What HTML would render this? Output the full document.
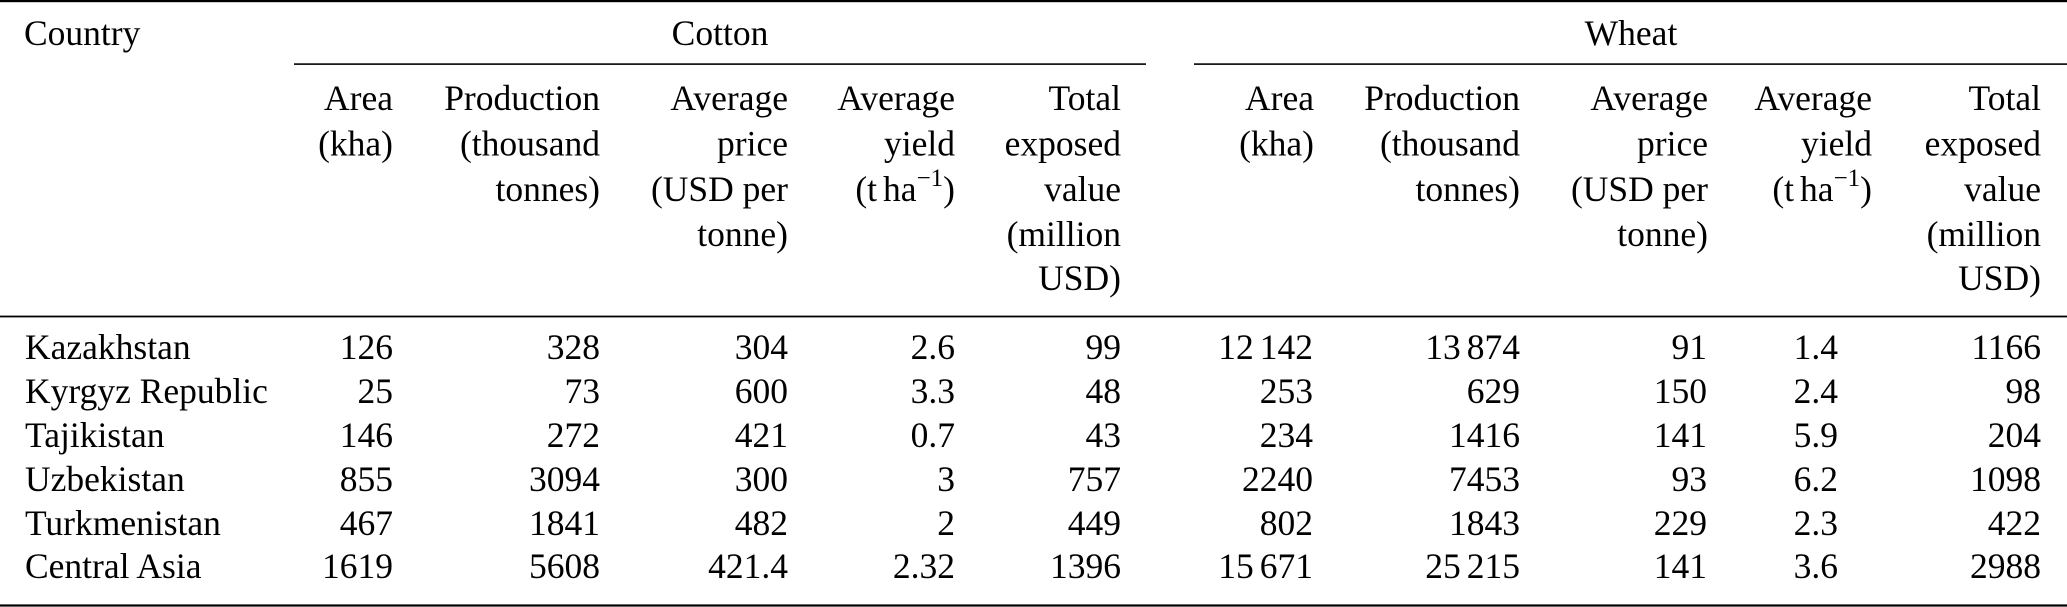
<!DOCTYPE html>
<html>
<head>
<meta charset="utf-8">
<style>
  html, body { margin: 0; padding: 0; background: #fff; }
  body { width: 2067px; height: 607px; overflow: hidden; }
  svg { display: block; }
  text { font-family: "Liberation Serif", "Times New Roman", serif; font-size: 35.5px; fill: #000; }
</style>
</head>
<body>
<svg width="2067" height="607" viewBox="0 0 2067 607" xmlns="http://www.w3.org/2000/svg">
  <!-- rules -->
  <rect x="0" y="0" width="2067" height="2.2" fill="#000"/>
  <rect x="294" y="63.3" width="852" height="1.6" fill="#000"/>
  <rect x="1194" y="63.3" width="873" height="1.6" fill="#000"/>
  <rect x="0" y="315.6" width="2067" height="1.8" fill="#000"/>
  <rect x="0" y="604.4" width="2067" height="2.2" fill="#000"/>

  <!-- top header -->
  <text x="24" y="45">Country</text>
  <text x="720" y="45" text-anchor="middle">Cotton</text>
  <text x="1631" y="45" text-anchor="middle">Wheat</text>

  <!-- Cotton sub headers -->
  <g text-anchor="end">
    <text x="393" y="110">Area</text>
    <text x="393" y="155.5">(kha)</text>

    <text x="600" y="110">Production</text>
    <text x="600" y="155.5">(thousand</text>
    <text x="600" y="201">tonnes)</text>

    <text x="788" y="110">Average</text>
    <text x="788" y="155.5">price</text>
    <text x="788" y="201">(USD per</text>
    <text x="788" y="246">tonne)</text>

    <text x="955" y="110">Average</text>
    <text x="955" y="155.5">yield</text>
    <text x="955" y="201">(t<tspan dx="6">ha</tspan><tspan dy="-15" font-size="25">−1</tspan><tspan dy="15">)</tspan></text>

    <text x="1121" y="110">Total</text>
    <text x="1121" y="155.5">exposed</text>
    <text x="1121" y="201">value</text>
    <text x="1121" y="246">(million</text>
    <text x="1121" y="290">USD)</text>

    <!-- Wheat sub headers -->
    <text x="1314" y="110">Area</text>
    <text x="1314" y="155.5">(kha)</text>

    <text x="1520" y="110">Production</text>
    <text x="1520" y="155.5">(thousand</text>
    <text x="1520" y="201">tonnes)</text>

    <text x="1708" y="110">Average</text>
    <text x="1708" y="155.5">price</text>
    <text x="1708" y="201">(USD per</text>
    <text x="1708" y="246">tonne)</text>

    <text x="1872" y="110">Average</text>
    <text x="1872" y="155.5">yield</text>
    <text x="1872" y="201">(t<tspan dx="6">ha</tspan><tspan dy="-15" font-size="25">−1</tspan><tspan dy="15">)</tspan></text>

    <text x="2041" y="110">Total</text>
    <text x="2041" y="155.5">exposed</text>
    <text x="2041" y="201">value</text>
    <text x="2041" y="246">(million</text>
    <text x="2041" y="290">USD)</text>
  </g>

  <!-- country names -->
  <text x="25" y="359">Kazakhstan</text>
  <text x="25" y="403">Kyrgyz Republic</text>
  <text x="25" y="447">Tajikistan</text>
  <text x="25" y="491">Uzbekistan</text>
  <text x="25" y="535">Turkmenistan</text>
  <text x="25" y="578">Central Asia</text>

  <g text-anchor="end">
    <!-- Kazakhstan -->
    <text x="393" y="359">126</text>
    <text x="600" y="359">328</text>
    <text x="788" y="359">304</text>
    <text x="955" y="359">2.6</text>
    <text x="1121" y="359">99</text>
    <text x="1313" y="359">12<tspan dx="6">142</tspan></text>
    <text x="1520" y="359">13<tspan dx="6">874</tspan></text>
    <text x="1707" y="359">91</text>
    <text x="1838" y="359">1.4</text>
    <text x="2041" y="359">1166</text>

    <!-- Kyrgyz Republic -->
    <text x="393" y="403">25</text>
    <text x="600" y="403">73</text>
    <text x="788" y="403">600</text>
    <text x="955" y="403">3.3</text>
    <text x="1121" y="403">48</text>
    <text x="1313" y="403">253</text>
    <text x="1520" y="403">629</text>
    <text x="1707" y="403">150</text>
    <text x="1838" y="403">2.4</text>
    <text x="2041" y="403">98</text>

    <!-- Tajikistan -->
    <text x="393" y="447">146</text>
    <text x="600" y="447">272</text>
    <text x="788" y="447">421</text>
    <text x="955" y="447">0.7</text>
    <text x="1121" y="447">43</text>
    <text x="1313" y="447">234</text>
    <text x="1520" y="447">1416</text>
    <text x="1707" y="447">141</text>
    <text x="1838" y="447">5.9</text>
    <text x="2041" y="447">204</text>

    <!-- Uzbekistan -->
    <text x="393" y="491">855</text>
    <text x="600" y="491">3094</text>
    <text x="788" y="491">300</text>
    <text x="955" y="491">3</text>
    <text x="1121" y="491">757</text>
    <text x="1313" y="491">2240</text>
    <text x="1520" y="491">7453</text>
    <text x="1707" y="491">93</text>
    <text x="1838" y="491">6.2</text>
    <text x="2041" y="491">1098</text>

    <!-- Turkmenistan -->
    <text x="393" y="535">467</text>
    <text x="600" y="535">1841</text>
    <text x="788" y="535">482</text>
    <text x="955" y="535">2</text>
    <text x="1121" y="535">449</text>
    <text x="1313" y="535">802</text>
    <text x="1520" y="535">1843</text>
    <text x="1707" y="535">229</text>
    <text x="1838" y="535">2.3</text>
    <text x="2041" y="535">422</text>

    <!-- Central Asia -->
    <text x="393" y="578">1619</text>
    <text x="600" y="578">5608</text>
    <text x="788" y="578">421.4</text>
    <text x="955" y="578">2.32</text>
    <text x="1121" y="578">1396</text>
    <text x="1313" y="578">15<tspan dx="6">671</tspan></text>
    <text x="1520" y="578">25<tspan dx="6">215</tspan></text>
    <text x="1707" y="578">141</text>
    <text x="1838" y="578">3.6</text>
    <text x="2041" y="578">2988</text>
  </g>
</svg>
</body>
</html>
